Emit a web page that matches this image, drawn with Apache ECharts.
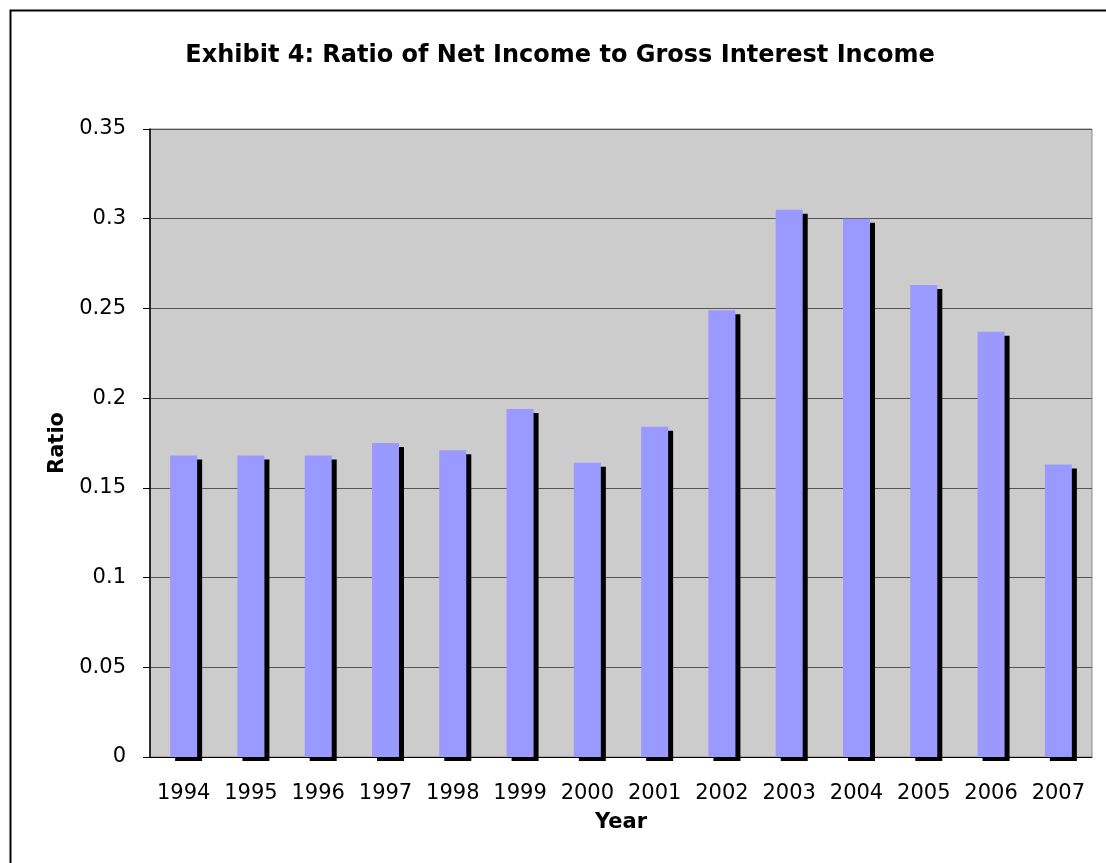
<!DOCTYPE html>
<html>
<head>
<meta charset="utf-8">
<title>Exhibit 4</title>
<script src="https://cdn.jsdelivr.net/npm/echarts@6/dist/echarts.min.js"></script>
<style>
  html, body { margin: 0; padding: 0; background: #fff; }
  #chart { width: 1106px; height: 863px; }
</style>
</head>
<body>
<div id="chart"></div>
<script>
// 数据
const years = ['1994', '1995', '1996', '1997', '1998', '1999', '2000',
               '2001', '2002', '2003', '2004', '2005', '2006', '2007'];
const ratios = [0.168, 0.168, 0.168, 0.175, 0.171, 0.194, 0.164,
                0.184, 0.249, 0.305, 0.300, 0.263, 0.237, 0.163];
const yTicks = [0, 0.05, 0.1, 0.15, 0.2, 0.25, 0.3, 0.35];

const FONT = 'DejaVu Sans, Verdana, sans-serif';
const chart = echarts.init(document.getElementById('chart'));

const option = {
    animation: false,
    backgroundColor: '#fff',
    graphic: [
        {
            type: 'rect',
            shape: { x: 10.5, y: 10.5, width: 1200, height: 1000 },
            style: { fill: 'none', stroke: '#000', lineWidth: 2 }
        },
        {
            type: 'text',
            x: 560,
            y: 56,
            style: {
                text: 'Exhibit 4: Ratio of Net Income to Gross Interest Income',
                font: 'bold 24px ' + FONT,
                fill: '#000',
                textAlign: 'center',
                textVerticalAlign: 'middle'
            }
        }
    ],
    grid: {
        left: 150,
        right: 14,
        top: 129,
        bottom: 106,
        show: true,
        backgroundColor: '#cccccc',
        borderColor: '#888',
        borderWidth: 1
    },
    xAxis: {
        type: 'category',
        data: years,
        name: 'Year',
        nameLocation: 'middle',
        nameGap: 55,
        nameTextStyle: { fontFamily: FONT, fontSize: 21, fontWeight: 'bold', color: '#000' },
        axisLine: { lineStyle: { color: '#000', width: 1 } },
        axisTick: { length: 6, lineStyle: { color: '#000' } },
        axisLabel: { interval: 0, hideOverlap: false, fontFamily: FONT, fontSize: 21, color: '#000', margin: 26 },
        splitLine: { show: false }
    },
    yAxis: {
        type: 'value',
        min: yTicks[0],
        max: yTicks[yTicks.length - 1],
        interval: 0.05,
        name: 'Ratio',
        nameLocation: 'middle',
        nameRotate: 90,
        nameGap: 78,
        nameTextStyle: { fontFamily: FONT, fontSize: 21, fontWeight: 'bold', color: '#000' },
        axisLine: { show: true, lineStyle: { color: '#000', width: 1.5 } },
        axisTick: { show: true, length: 7, lineStyle: { color: '#000' } },
        axisLabel: {
            fontFamily: FONT, fontSize: 21, color: '#000', margin: 24,
            formatter: v => String(+v.toFixed(2))
        },
        splitLine: { lineStyle: { color: '#555', width: 1 } }
    },
    series: [
        {
            name: 'Ratio',
            type: 'bar',
            data: ratios,
            barWidth: 27,
            itemStyle: {
                color: '#9999ff',
                shadowColor: '#000',
                shadowBlur: 0,
                shadowOffsetX: 5,
                shadowOffsetY: 4
            }
        }
    ]
};

chart.setOption(option);
</script>
</body>
</html>
